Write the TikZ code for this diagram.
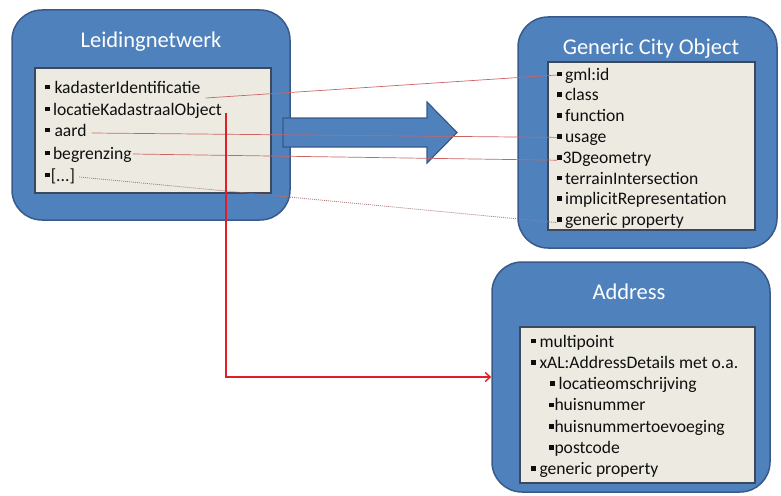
\documentclass[tikz,border=0pt]{standalone}
\usepackage{fontspec}
\setmainfont{Carlito}
\usetikzlibrary{calc,arrows.meta}

\definecolor{boxblue}{RGB}{79,129,189}
\definecolor{boxedge}{RGB}{56,90,138}
\definecolor{innerfill}{RGB}{237,235,225}
\definecolor{inneredge}{RGB}{60,72,92}
\definecolor{itemtext}{RGB}{15,15,15}
\definecolor{linkred}{RGB}{205,100,100}
\definecolor{dotred}{RGB}{170,120,120}
\definecolor{mainred}{RGB}{225,30,40}

% square bullet used in the attribute lists
\newcommand{\sqb}{\rule[3.6pt]{4.8pt}{4.8pt}}

\tikzset{
  outerbox/.style={draw=boxedge, fill=boxblue, line width=1.5pt, rounded corners=30pt, inner sep=0pt},
  innerbox/.style={draw=inneredge, fill=innerfill, line width=1.2pt, inner sep=0pt},
  boxtitle/.style={text=white, font=\fontsize{22.5}{27}\selectfont, inner sep=0pt},
  item/.style={anchor=base west, inner sep=0pt, text=itemtext, font=\fontsize{17.6}{20}\selectfont},
  link/.style={draw=linkred, line width=0.7pt},
  dotlink/.style={draw=dotred, line width=0.8pt, dash pattern=on 1pt off 1pt},
  mainlink/.style={draw=mainred, line width=1.4pt, -{Straight Barb[length=5pt,width=9pt,line width=1.4pt]}},
  bigarrow/.style={draw=boxedge, fill=boxblue, line width=1.2pt, line join=miter}
}

\begin{document}
\begin{tikzpicture}[x=1pt,y=-1pt]
\useasboundingbox (0,0) rectangle (781,495);

% --- Leidingnetwerk ---
\node[outerbox, minimum width=278pt, minimum height=210pt] (lnw) at (151,115) {};
\node[innerbox, minimum width=236pt, minimum height=125pt] (lnwin) at (153,130.5) {};
\node[boxtitle] (lnwt) at (151,42) {Leidingnetwerk};
\node[item] (k1) at (45,93)  {\sqb\hspace{4.5pt}kadasterIdentificatie};
\node[item] (k2) at (45,115) {\sqb\hspace{3pt}locatieKadastraalObject};
\node[item] (k3) at (45,136) {\sqb\hspace{4.5pt}aard};
\node[item] (k4) at (45,159) {\sqb\hspace{3pt}begrenzing};
\node[item] (k5) at (45,181) {\sqb\hspace{0.8pt}[...]};

% --- Generic City Object ---
\node[outerbox, minimum width=259pt, minimum height=231pt] (gco) at (647.5,132.5) {};
\node[innerbox, minimum width=207pt, minimum height=168pt] (gcoin) at (651.5,146) {};
\node[boxtitle] (gcot) at (651,49) {Generic City Object};
\node[item] (g1) at (557,80)    {\sqb\hspace{3pt}gml:id};
\node[item] (g2) at (557,100.8) {\sqb\hspace{3pt}class};
\node[item] (g3) at (557,121.6) {\sqb\hspace{3pt}function};
\node[item] (g4) at (557,142.4) {\sqb\hspace{3pt}usage};
\node[item] (g5) at (557,163.2) {\sqb\hspace{0.5pt}3Dgeometry};
\node[item] (g6) at (557,184)   {\sqb\hspace{3pt}terrainIntersection};
\node[item] (g7) at (557,204.8) {\sqb\hspace{3pt}implicitRepresentation};
\node[item] (g8) at (557,225.6) {\sqb\hspace{3pt}generic property};

% --- Address ---
\node[outerbox, minimum width=278pt, minimum height=230pt] (addr) at (631,377) {};
\node[innerbox, minimum width=235pt, minimum height=156pt] (addrin) at (637.5,405) {};
\node[boxtitle] (addrt) at (629,292) {Address};
\node[item] (a1) at (531,347)   {\sqb\hspace{3.5pt}multipoint};
\node[item] (a2) at (531,368.3) {\sqb\hspace{3.5pt}xAL:AddressDetails met o.a.};
\node[item] (a3) at (550,389.6) {\sqb\hspace{3.5pt}locatieomschrijving};
\node[item] (a4) at (549,410.9) {\sqb\hspace{0.5pt}huisnummer};
\node[item] (a5) at (549,432.2) {\sqb\hspace{0.5pt}huisnummertoevoeging};
\node[item] (a6) at (549,453.5) {\sqb\hspace{0.5pt}postcode};
\node[item] (a7) at (531,474.8) {\sqb\hspace{3.5pt}generic property};

% --- broad mapping arrow ---
\draw[bigarrow] (283,118) -- (427,118) -- (427,102) -- (457,132.5)
  -- (427,163) -- (427,147) -- (283,147) -- cycle;

% --- attribute links ---
\draw[link] ($(k1.base east)+(5,5)$) -- ($(g1.base west)+(0,-5)$);
\draw[link] ($(k3.base east)+(5,-3)$) -- ($(g4.base west)+(0,-5)$);
\draw[link] ($(k4.base east)+(1,-5)$) -- ($(g5.base west)+(0,-3)$);
\draw[dotlink] ($(k5.base east)+(4,-4)$) -- ($(g8.base west)+(0,-3)$);

\coordinate (lstart) at ($(k2.base east)+(4,-2)$);
\draw[mainlink] (lstart) |- (addr.west);
\end{tikzpicture}
\end{document}
